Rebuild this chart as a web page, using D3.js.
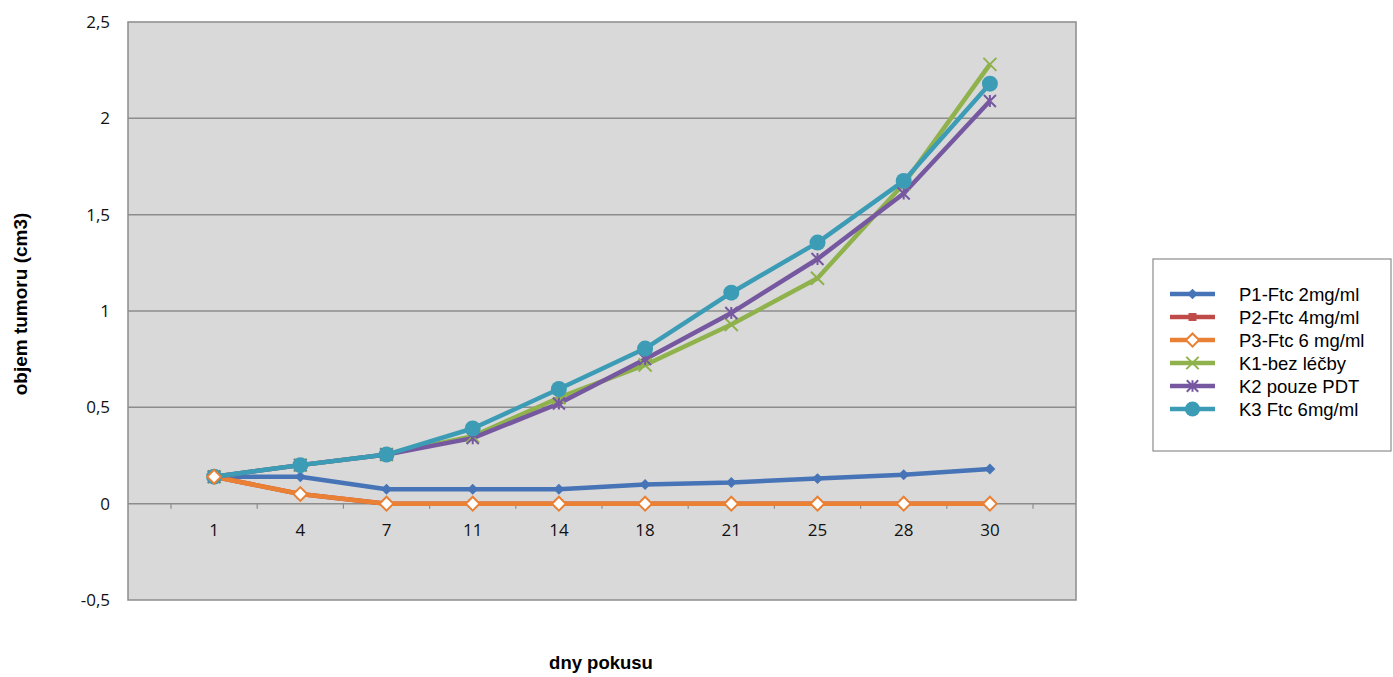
<!DOCTYPE html>
<html><head><meta charset="utf-8">
<script src="https://cdn.jsdelivr.net/npm/d3@7/dist/d3.min.js"></script>
<style>body{margin:0;background:#fff;} svg{display:block;}</style>
</head><body>
<svg id="c" width="1393" height="677"></svg>
<script>
const days = ["1","4","7","11","14","18","21","25","28","30"];
const p1 = [0.14,0.14,0.075,0.075,0.075,0.10,0.11,0.13,0.15,0.18];
const p2 = [0.14,0.05,0,0,0,0,0,0,0,0];
const p3 = [0.14,0.05,0,0,0,0,0,0,0,0];
const k1 = [0.14,0.20,0.255,0.35,0.55,0.72,0.93,1.17,1.66,2.28];
const k2 = [0.14,0.20,0.255,0.34,0.52,0.75,0.99,1.27,1.61,2.09];
const k3 = [0.14,0.20,0.255,0.39,0.595,0.805,1.095,1.355,1.675,2.18];
const yTicks = [-0.5,0,0.5,1,1.5,2,2.5];
const seriesNames = ["P1-Ftc 2mg/ml","P2-Ftc 4mg/ml","P3-Ftc 6 mg/ml","K1-bez léčby","K2 pouze PDT","K3 Ftc 6mg/ml"];

const series = [
  {name:seriesNames[0], values:p1, color:"#4674b7", marker:"diamond"},
  {name:seriesNames[1], values:p2, color:"#be4b48", marker:"square"},
  {name:seriesNames[2], values:p3, color:"#e98034", marker:"opendiamond"},
  {name:seriesNames[3], values:k1, color:"#8fb24c", marker:"x"},
  {name:seriesNames[4], values:k2, color:"#7658a0", marker:"star"},
  {name:seriesNames[5], values:k3, color:"#3c9cb6", marker:"circle"}
];

const svg = d3.select("#c");
const plot = {left:128, top:22, right:1076, bottom:600};
const y = d3.scaleLinear().domain([-0.5,2.5]).range([plot.bottom, plot.top]);
const x = d3.scaleBand().domain(days).range([171, 1033]);
const cx = d => x(d) + x.bandwidth()/2;

svg.append("rect").attr("x",plot.left).attr("y",plot.top)
  .attr("width",plot.right-plot.left).attr("height",plot.bottom-plot.top)
  .attr("fill","#d9d9d9").attr("stroke","#8c8c8c").attr("stroke-width",1.5);

svg.append("g").selectAll("line").data(yTicks.filter(v=>v!==0 && v!==-0.5 && v!==2.5)).join("line")
  .attr("x1",plot.left).attr("x2",plot.right)
  .attr("y1",d=>y(d)).attr("y2",d=>y(d))
  .attr("stroke","#8c8c8c").attr("stroke-width",1.5);

const yAxis = d3.axisLeft(y).tickValues(yTicks).tickSize(0).tickPadding(18)
  .tickFormat(d => String(d).replace(".",","));
const gy = svg.append("g").attr("transform",`translate(${plot.left},0)`).call(yAxis);
gy.select(".domain").remove();
gy.selectAll("text").attr("font-family","'Open Sans', sans-serif").attr("font-size",17).attr("fill","#111");

svg.append("line").attr("x1",plot.left).attr("x2",plot.right).attr("y1",y(0)).attr("y2",y(0))
  .attr("stroke","#8c8c8c").attr("stroke-width",1.5);
const tickPos = days.map(d=>x(d)).concat([x(days[days.length-1])+x.bandwidth()]);
svg.append("g").selectAll("line").data(tickPos).join("line")
  .attr("x1",d=>d).attr("x2",d=>d).attr("y1",y(0)).attr("y2",y(0)+5)
  .attr("stroke","#8c8c8c").attr("stroke-width",1.2);
svg.append("g").selectAll("text").data(days).join("text")
  .attr("x",d=>cx(d)).attr("y",y(0)+32).attr("text-anchor","middle")
  .attr("font-family","'Open Sans', sans-serif").attr("font-size",17).attr("fill","#111")
  .text(d=>d);

svg.append("text").attr("x",601).attr("y",669).attr("text-anchor","middle")
  .attr("font-family","'Liberation Sans', Arial, sans-serif").attr("font-weight","bold")
  .attr("font-size",18.5).attr("fill","#000").text("dny pokusu");
svg.append("text").attr("transform","translate(27,304) rotate(-90)").attr("text-anchor","middle")
  .attr("font-family","'Liberation Sans', Arial, sans-serif").attr("font-weight","bold")
  .attr("font-size",19).attr("fill","#000").text("objem tumoru (cm3)");

function drawMarker(g, type, color, px, py, scale) {
  const s = scale||1;
  if (type==="diamond") {
    g.append("path").attr("d",d3.symbol(d3.symbolSquare, 60*s)()).attr("transform",`translate(${px},${py}) rotate(45)`).attr("fill",color);
  } else if (type==="square") {
    g.append("path").attr("d",d3.symbol(d3.symbolSquare, 70*s)()).attr("transform",`translate(${px},${py})`).attr("fill",color);
  } else if (type==="opendiamond") {
    g.append("path").attr("d",d3.symbol(d3.symbolSquare, 95*s)()).attr("transform",`translate(${px},${py}) rotate(45)`)
      .attr("fill","#fff").attr("stroke",color).attr("stroke-width",2);
  } else if (type==="x") {
    const r=6.5*Math.sqrt(s);
    g.append("path").attr("d",`M${-r},${-r}L${r},${r}M${-r},${r}L${r},${-r}`).attr("transform",`translate(${px},${py})`)
      .attr("stroke",color).attr("stroke-width",2).attr("fill","none");
  } else if (type==="star") {
    const r=6*Math.sqrt(s);
    g.append("path").attr("d",`M${-r},${-r}L${r},${r}M${-r},${r}L${r},${-r}M0,${-r}L0,${r}`).attr("transform",`translate(${px},${py})`)
      .attr("stroke",color).attr("stroke-width",2).attr("fill","none");
  } else if (type==="circle") {
    g.append("circle").attr("cx",px).attr("cy",py).attr("r",8*Math.sqrt(s)).attr("fill",color);
  }
}

const line = d3.line().x((v,i)=>cx(days[i])).y(v=>y(v));
const gl = svg.append("g");
series.forEach(s=>{
  gl.append("path").attr("d",line(s.values)).attr("fill","none")
    .attr("stroke",s.color).attr("stroke-width",4.5).attr("stroke-linejoin","round");
});
const gm = svg.append("g");
[0,1,3,4,5,2].forEach(k=>{
  const s = series[k];
  s.values.forEach((v,i)=>drawMarker(gm, s.marker, s.color, cx(days[i]), y(v)));
});

const lg = svg.append("g");
lg.append("rect").attr("x",1153).attr("y",259).attr("width",238).attr("height",192)
  .attr("fill","#fff").attr("stroke","#8c8c8c").attr("stroke-width",1.2);
series.forEach((s,i)=>{
  const ly = 294 + i*23;
  lg.append("line").attr("x1",1170).attr("x2",1215).attr("y1",ly).attr("y2",ly)
    .attr("stroke",s.color).attr("stroke-width",4.5);
  drawMarker(lg, s.marker, s.color, 1192.5, ly, 0.9);
  lg.append("text").attr("x",1239).attr("y",ly+6.5)
    .attr("font-family","'Liberation Sans', Arial, sans-serif").attr("font-size",18.5).attr("fill","#000")
    .text(s.name);
});
</script>
</body></html>
